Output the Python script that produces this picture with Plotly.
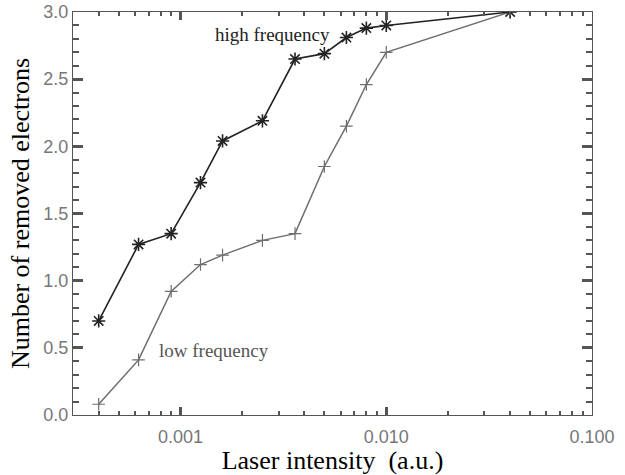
import math
import plotly.graph_objects as go

# ---- data ----
intensity = [0.0004, 0.000625, 0.0009, 0.00125, 0.0016, 0.0025, 0.0036, 0.005, 0.0064, 0.008, 0.01, 0.04]
high_freq = [0.70, 1.27, 1.35, 1.73, 2.04, 2.19, 2.65, 2.69, 2.81, 2.88, 2.90, 3.00]
low_freq = [0.08, 0.41, 0.92, 1.12, 1.19, 1.30, 1.35, 1.85, 2.15, 2.46, 2.70, 3.00]

x_tickformat = ".3f"   # tick labels 0.001, 0.010, 0.100
y_tickformat = ".1f"   # tick labels 0.0 ... 3.0

AXC = "#555555"
TICKC = "#555555"
TICKFONT = dict(family="Liberation Sans, Arial, sans-serif", size=18, color="#777777")
SERIF = "Liberation Serif, Times New Roman, serif"

fig = go.Figure()
fig.add_trace(go.Scatter(
    x=intensity, y=low_freq, mode="lines+markers", name="low frequency",
    line=dict(color="#6e6e6e", width=1.5),
    marker=dict(symbol="cross-thin-open", size=9, line=dict(color="#6e6e6e", width=1.2)),
))
fig.add_trace(go.Scatter(
    x=intensity, y=high_freq, mode="lines+markers", name="high frequency",
    line=dict(color="#222222", width=1.6),
    marker=dict(symbol="asterisk-open", size=11, line=dict(color="#222222", width=1.6)),
))

fig.add_annotation(text="high frequency", x=-2.844, y=2.83, xref="x", yref="y",
                   xanchor="left", yanchor="middle", showarrow=False,
                   font=dict(family=SERIF, size=19, color="#222222"))
fig.add_annotation(text="low frequency", x=-3.117, y=0.48, xref="x", yref="y",
                   xanchor="left", yanchor="middle", showarrow=False,
                   font=dict(family=SERIF, size=19, color="#555555"))

fig.update_layout(
    template="none",
    width=625, height=475,
    margin=dict(l=73, r=33, t=12, b=60),
    paper_bgcolor="white", plot_bgcolor="white",
    showlegend=False,
    xaxis=dict(
        type="log", range=[math.log10(0.0003), -1], automargin=False,
        tickformat=x_tickformat, dtick=1,
        ticks="inside", ticklen=8, tickcolor=TICKC, tickwidth=3,
        minor=dict(ticks="inside", ticklen=4, tickcolor=TICKC, tickwidth=2, dtick="D1"),
        showline=True, linecolor=AXC, linewidth=1, mirror="allticks",
        showgrid=False, zeroline=False,
        tickfont=TICKFONT, ticklabelstandoff=5,
        title=dict(text="Laser intensity\u00a0\u00a0(a.u.)", font=dict(family=SERIF, size=26, color="black"), standoff=3),
    ),
    yaxis=dict(
        range=[0, 3], automargin=False,
        tickformat=y_tickformat, dtick=0.5,
        ticks="inside", ticklen=10, tickcolor=TICKC, tickwidth=3,
        minor=dict(ticks="inside", ticklen=6, tickcolor=TICKC, tickwidth=2, dtick=0.1),
        showline=True, linecolor=AXC, linewidth=1, mirror="allticks",
        showgrid=False, zeroline=False,
        tickfont=TICKFONT,
        title=dict(text="Number of removed electrons", font=dict(family=SERIF, size=26, color="black"), standoff=6),
    ),
)

fig.write_html("out.html")
